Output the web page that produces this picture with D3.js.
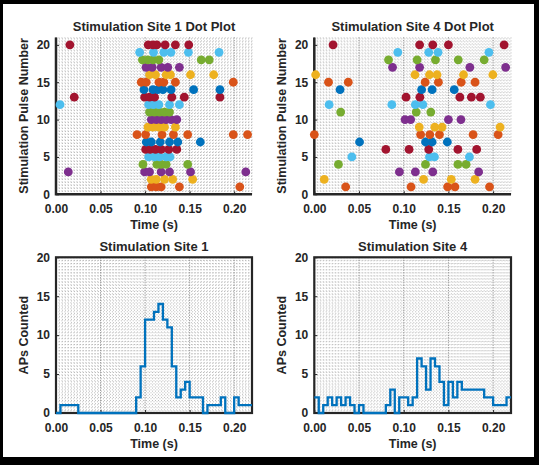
<!DOCTYPE html>
<html>
<head>
<meta charset="utf-8">
<script src="https://cdn.jsdelivr.net/npm/d3@7/dist/d3.min.js"></script>
<style>
body{margin:0;background:#000}
text{font-family:"Liberation Sans",Arial,sans-serif;font-weight:bold;fill:#262626}
</style>
</head>
<body>
<div id="chart"></div>
<script>
var timeTicks = [0,0.05,0.1,0.15,0.2]
var pulseTicks = [0,5,10,15,20]
var countTicks = [0,5,10,15,20]
// matlab default color order, pulse n uses pulseColors[n%7]
var pulseColors = ["#0072BD","#D95319","#EDB120","#7E2F8E","#77AC30","#4DBEEE","#A2142F"]

// spike times (s) for pulse 1..20
var site1Spikes = [
	[0.107,0.1125,0.118,0.1385,0.2063],
	[0.1069,0.1125,0.1218,0.131,0.1534],
	[0.0138,0.0995,0.105,0.118,0.1274,0.151,0.213],
	[0.0976,0.1132,0.118,0.1236,0.1478],
	[0.104,0.1106,0.1162,0.1236,0.128],
	[0.1006,0.1058,0.1117,0.118,0.1266,0.1356],
	[0.1013,0.107,0.117,0.1274,0.1367,0.162],
	[0.0909,0.1006,0.119,0.1318,0.1478,0.199,0.215],
	[0.1032,0.1088,0.1155,0.1218,0.134],
	[0.107,0.1125,0.118,0.1236,0.1292,0.1356],
	[0.105,0.1106,0.1162,0.1218,0.1274],
	[0.0045,0.104,0.1095,0.1155,0.1274,0.1385],
	[0.0205,0.0995,0.105,0.1106,0.13,0.144,0.184],
	[0.0987,0.1088,0.1143,0.12,0.1292,0.1545,0.184],
	[0.0957,0.1013,0.1155,0.121,0.134,0.199],
	[0.105,0.1117,0.1236,0.1285,0.151,0.177],
	[0.101,0.108,0.118,0.1255,0.1385],
	[0.097,0.103,0.109,0.1155,0.163,0.172],
	[0.0939,0.1095,0.121,0.129,0.1486,0.183],
	[0.0156,0.1035,0.1088,0.1132,0.1225,0.134,0.149]
]
var site4Spikes = [
	[0.0351,0.1082,0.1491,0.1573,0.196],
	[0.0111,0.1222,0.1532,0.1798],
	[0.0952,0.113,0.1325,0.1838],
	[0.027,0.1244,0.1606,0.1698],
	[0.042,0.1288,0.1344,0.1735],
	[0.080,0.106,0.128,0.1606,0.1816],
	[0.0506,0.1244,0.1318,0.1488],
	[0,0.1189,0.1292,0.14,0.1776,0.2056],
	[0.1174,0.1347,0.1429,0.2078],
	[0.1015,0.1078,0.150,0.164],
	[0.0295,0.114,0.1303],
	[0.0166,0.0867,0.113,0.1214,0.197],
	[0.1026,0.1181,0.1628,0.1757,0.1857],
	[0.0288,0.12,0.1318,0.1565],
	[0.0159,0.038,0.124,0.1388,0.1643,0.1798],
	[0.0015,0.1126,0.1288,0.1373,0.1669,0.1997],
	[0.0875,0.1178,0.174,0.214],
	[0.083,0.115,0.1355,0.161,0.190],
	[0.0934,0.128,0.1384,0.1953],
	[0.021,0.1178,0.1325,0.150,0.2123]
]

// APs per 5 ms bin, 0 - 0.22 s
var binWidth = 0.005
var site1Counts = [0,1,1,1,1,0,0,0,0,0,0,0,0,0,0,0,0,0,2,6,12,12,13,14,12,11,6,2,3,4,2,2,2,0,1,1,1,2,0,0,2,1,1,1]
var site4Counts = [2,0,1,2,1,2,1,2,1,0,1,0,0,0,0,0,1,3,0,2,2,1,2,7,6,3,7,6,4,1,4,2,4,3,3,3,3,3,2,2,1,1,1,2]

var svg = d3.select("#chart").append("svg").attr("width",539).attr("height",465)
svg.append("rect").attr("x",0).attr("y",0).attr("width",539).attr("height",465).attr("fill","#000")
svg.append("rect").attr("x",3).attr("y",4).attr("width",531).attr("height",453).attr("fill","#fff")

function panel(o){
	var x = d3.scaleLinear().domain([0,0.22]).range([o.left,o.right])
	var y = d3.scaleLinear().domain([0,o.yMax]).range([o.bottom,o.top])
	var g = svg.append("g")

	var minorX = d3.range(0,0.2201,0.05/15)
	var minorY = d3.range(0,o.yMax+0.001,0.4)
	g.selectAll(".mx").data(minorX).enter().append("line")
		.attr("x1",function(d){return x(d)}).attr("x2",function(d){return x(d)})
		.attr("y1",o.top).attr("y2",o.bottom)
		.attr("stroke","#b4b4b4").attr("stroke-width",0.9).attr("stroke-dasharray","1,2")
	g.selectAll(".my").data(minorY).enter().append("line")
		.attr("y1",function(d){return y(d)}).attr("y2",function(d){return y(d)})
		.attr("x1",o.left).attr("x2",o.right)
		.attr("stroke","#b4b4b4").attr("stroke-width",0.9).attr("stroke-dasharray","1,2")
	g.selectAll(".gx").data(timeTicks).enter().append("line")
		.attr("x1",function(d){return x(d)}).attr("x2",function(d){return x(d)})
		.attr("y1",o.top).attr("y2",o.bottom)
		.attr("stroke","#8a8a8a").attr("stroke-width",1).attr("stroke-dasharray","1,1.5")

	var xAxis = d3.axisBottom(x).tickValues(timeTicks).tickSize(-3).tickPadding(10)
	var yAxis = d3.axisLeft(y).tickValues(o.yTicks).tickSize(-3).tickPadding(6)
	var xg = g.append("g").attr("transform","translate(0,"+o.bottom+")").call(xAxis)
	var yg = g.append("g").attr("transform","translate("+o.left+",0)").call(yAxis)
	xg.select(".domain").remove()
	yg.select(".domain").remove()
	g.selectAll(".tick line").attr("stroke","#262626")
	g.selectAll(".tick text").attr("font-size","12px").attr("font-family","Liberation Sans, Arial, sans-serif").attr("font-weight","bold").attr("fill","#262626")

	if(o.box){
		g.append("rect").attr("x",o.left).attr("y",o.top)
			.attr("width",o.right-o.left).attr("height",o.bottom-o.top)
			.attr("fill","none").attr("stroke","#262626").attr("stroke-width",2.2)
	}else{
		g.append("path").attr("d","M"+o.left+","+o.top+"V"+o.bottom+"H"+o.right)
			.attr("fill","none").attr("stroke","#262626").attr("stroke-width",2.5)
	}

	if(o.spikes){
		o.spikes.forEach(function(row,i){
			var pulse = i+1
			g.selectAll(".p"+pulse).data(row).enter().append("circle")
				.attr("cx",function(d){return x(d)})
				.attr("cy",y(pulse))
				.attr("r",4.4)
				.attr("fill",pulseColors[pulse%7])
		})
	}
	if(o.counts){
		var pts = o.counts.map(function(c,i){return [i*binWidth,c]})
		pts.push([0.22,o.counts[o.counts.length-1]])
		var line = d3.line().x(function(d){return x(d[0])}).y(function(d){return y(d[1])}).curve(d3.curveStepAfter)
		g.append("path").datum(pts).attr("d",line)
			.attr("fill","none").attr("stroke","#0072BD").attr("stroke-width",2.3)
	}

	var cx = (o.left+o.right)/2
	g.append("text").text(o.title).attr("x",cx).attr("y",o.top-6).attr("text-anchor","middle").attr("font-size","13px")
	g.append("text").text("Time (s)").attr("x",cx).attr("y",o.bottom+35).attr("text-anchor","middle").attr("font-size","12.5px")
	g.append("text").text(o.ylabel).attr("transform","translate("+(o.left-28)+","+((o.top+o.bottom)/2)+") rotate(-90)")
		.attr("text-anchor","middle").attr("font-size","12.5px")
}

panel({left:56,right:252,top:37.4,bottom:194.3,yMax:21,yTicks:pulseTicks,box:false,
	title:"Stimulation Site 1 Dot Plot",ylabel:"Stimulation Pulse Number",spikes:site1Spikes})
panel({left:314.3,right:511,top:37.4,bottom:194.3,yMax:21,yTicks:pulseTicks,box:false,
	title:"Stimulation Site 4 Dot Plot",ylabel:"Stimulation Pulse Number",spikes:site4Spikes})
panel({left:56,right:252,top:257.3,bottom:413,yMax:20,yTicks:countTicks,box:true,
	title:"Stimulation Site 1",ylabel:"APs Counted",counts:site1Counts})
panel({left:314.3,right:511,top:257.3,bottom:413,yMax:20,yTicks:countTicks,box:true,
	title:"Stimulation Site 4",ylabel:"APs Counted",counts:site4Counts})
</script>
</body>
</html>
